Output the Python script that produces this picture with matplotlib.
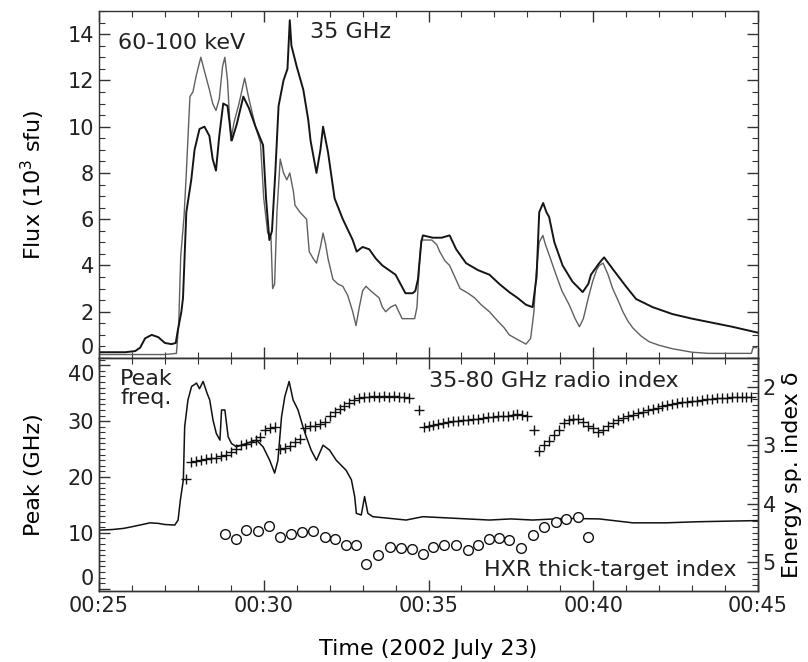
import numpy as np
import matplotlib
matplotlib.use("Agg")
from matplotlib import pyplot as plt
from matplotlib.ticker import MultipleLocator, FuncFormatter

plt.rcParams['font.family'] = ['DejaVu Sans']

# ---- top panel: flux (10^3 sfu), time in minutes after 00:00 UT
radio_t = [25.0, 25.8, 26.1, 26.25, 26.4, 26.6, 26.8, 27.0, 27.2, 27.33, 27.38, 27.5, 27.55,
           27.65, 27.8, 27.9, 28.05, 28.2, 28.35, 28.45, 28.55, 28.65, 28.77, 28.9, 29.03,
           29.18, 29.38, 29.55, 29.75, 29.98, 30.07, 30.17, 30.25, 30.35, 30.45, 30.6, 30.72,
           30.79, 30.84, 31.0, 31.2, 31.35, 31.42, 31.6, 31.72, 31.8, 31.95, 32.15, 32.4, 32.7,
           32.82, 33.0, 33.2, 33.4, 33.6, 34.0, 34.3, 34.52, 34.6, 34.68, 34.78, 34.83, 35.13,
           35.4, 35.64, 35.84, 36.14, 36.5, 36.85, 37.15, 37.45, 37.7, 37.96, 38.16, 38.28,
           38.36, 38.48, 38.58, 38.66, 38.82, 39.07, 39.37, 39.68, 39.85, 39.93, 40.18, 40.33,
           40.59, 40.99, 41.3, 41.8, 42.4, 43.0, 43.7, 44.22, 44.98]
radio_flux = [0.25, 0.25, 0.3, 0.45, 0.85, 1.0, 0.9, 0.65, 0.6, 0.65, 1.1, 2.0, 2.6,
              6.3, 7.7, 9.0, 9.9, 10.0, 9.6, 8.6, 8.1, 9.6, 11.0, 10.9, 9.4,
              10.1, 11.3, 10.8, 10.0, 9.2, 6.9, 5.1, 5.5, 8.0, 10.9, 12.0, 12.5,
              14.6, 13.5, 12.6, 11.6, 10.3, 9.4, 8.0, 9.0, 10.0, 8.9, 6.9, 6.0, 5.1,
              4.6, 4.8, 4.7, 4.3, 4.0, 3.6, 2.8, 2.8, 2.9, 3.4, 5.0, 5.3, 5.2,
              5.2, 5.3, 4.7, 4.1, 3.8, 3.6, 3.2, 2.85, 2.6, 2.3, 2.2, 3.5,
              6.3, 6.7, 6.3, 6.1, 5.0, 4.0, 3.3, 2.85, 3.2, 3.6, 4.1, 4.35,
              3.85, 3.1, 2.55, 2.2, 1.9, 1.7, 1.5, 1.35, 1.1]

hxr_t = [25.0, 25.5, 26.0, 26.5, 27.0, 27.35, 27.42, 27.48, 27.58, 27.65, 27.76, 27.85, 27.95,
         28.09, 28.2, 28.35, 28.45, 28.55, 28.65, 28.75, 28.82, 28.9, 29.0, 29.1, 29.25, 29.42,
         29.55, 29.75, 29.9, 30.0, 30.12, 30.22, 30.27, 30.33, 30.4, 30.5, 30.6, 30.7, 30.79,
         30.9, 30.95, 31.1, 31.3, 31.38, 31.5, 31.6, 31.72, 31.8, 31.88, 31.95, 32.1, 32.25,
         32.4, 32.55, 32.7, 32.8, 32.9, 33.0, 33.1, 33.25, 33.5, 33.6, 33.7, 33.85, 34.0, 34.1,
         34.2, 34.4, 34.58, 34.65, 34.72, 34.78, 34.9, 35.1, 35.25, 35.34, 35.5, 35.64, 35.8,
         35.96, 36.2, 36.4, 36.6, 36.85, 37.1, 37.3, 37.45, 37.7, 37.96, 38.1, 38.2, 38.26,
         38.36, 38.47, 38.55, 38.7, 38.87, 39.05, 39.27, 39.45, 39.58, 39.7, 39.85, 39.98,
         40.1, 40.18, 40.3, 40.45, 40.59, 40.75, 40.9, 41.05, 41.2, 41.45, 41.7, 42.0, 42.4,
         43.0, 43.5, 44.0, 44.5, 44.8, 44.85, 44.95]
hxr_flux = [0.15, 0.15, 0.15, 0.15, 0.15, 0.2, 1.5, 4.4, 6.1, 8.0, 11.3, 11.5, 12.2,
            13.0, 12.4, 11.6, 11.0, 10.7, 11.2, 12.6, 13.0, 12.0, 9.4, 10.2, 11.0, 12.1,
            11.2, 10.0, 9.3, 6.9, 5.4, 5.2, 3.0, 3.2, 6.3, 8.6, 8.0, 7.7, 8.0,
            7.2, 6.6, 6.3, 6.0, 4.6, 4.3, 4.1, 4.8, 5.4, 4.9, 4.3, 3.4, 3.2,
            3.1, 2.7, 2.0, 1.4, 2.2, 2.9, 3.1, 2.9, 2.6, 2.2, 2.0, 2.2, 2.3, 2.0,
            1.7, 1.7, 1.7, 2.2, 4.0, 5.1, 5.1, 5.1, 4.9, 4.6, 4.2, 4.0, 3.5,
            3.0, 2.8, 2.6, 2.3, 2.0, 1.6, 1.3, 1.0, 0.8, 0.6, 0.85, 2.0, 3.55,
            5.0, 5.3, 4.9, 4.3, 3.6, 2.9, 2.3, 1.7, 1.35, 1.7, 2.6, 3.3,
            3.8, 4.0, 4.1, 3.6, 3.0, 2.5, 2.0, 1.6, 1.3, 0.95, 0.7, 0.55, 0.4,
            0.25, 0.2, 0.2, 0.2, 0.2, 0.45, 0.45]

# ---- bottom panel: peak frequency (GHz)
peak_t = [25.0, 25.4, 25.74, 26.0, 26.24, 26.55, 26.8, 27.0, 27.3, 27.4, 27.47, 27.56, 27.6,
          27.7, 27.81, 27.96, 28.05, 28.16, 28.28, 28.36, 28.46, 28.56, 28.67, 28.72, 28.82,
          28.92, 29.02, 29.17, 29.47, 29.78, 29.98, 30.18, 30.33, 30.43, 30.54, 30.64, 30.77,
          30.89, 31.04, 31.19, 31.29, 31.44, 31.6, 31.8, 32.0, 32.2, 32.5, 32.66, 32.76, 32.81,
          32.96, 33.06, 33.16, 33.31, 33.82, 34.32, 34.83, 35.84, 36.85, 37.5, 38.16, 39.17,
          40.18, 41.2, 42.2, 43.2, 44.98]
peak_ghz = [10.5, 10.6, 10.8, 11.1, 11.4, 11.8, 11.7, 11.5, 11.4, 12.3, 15.9, 19.5, 29.0,
            33.8, 36.2, 36.8, 35.8, 37.1, 35.0, 33.8, 30.2, 27.8, 26.6, 32.0, 32.0,
            27.2, 26.0, 25.4, 26.0, 26.6, 25.4, 23.0, 20.7, 23.0, 30.8, 34.4, 37.1,
            33.8, 32.0, 29.0, 27.2, 24.8, 23.0, 25.7, 24.8, 23.0, 21.2, 19.5, 16.5, 13.5,
            13.2, 16.5, 13.5, 12.9, 12.6, 12.3, 12.9, 12.6, 12.3, 12.5, 12.3, 12.6,
            12.5, 11.8, 11.8, 12.0, 12.2]

# 35-80 GHz radio spectral index (energy index delta), three runs of samples
radio_idx_a = [3.57, 3.28, 3.27, 3.25, 3.24, 3.22, 3.22, 3.18, 3.17, 3.12, 3.07, 3.00,
               2.97, 2.94, 2.90, 2.86, 2.74, 2.70, 2.69, 3.06, 3.04, 3.01, 2.95, 2.89,
               2.70, 2.66, 2.66, 2.64, 2.60, 2.50, 2.42, 2.37, 2.32, 2.27, 2.22, 2.19,
               2.17, 2.17, 2.16, 2.17, 2.16, 2.17, 2.16, 2.17, 2.17, 2.18]
radio_idx_lone_t = [34.7, 38.2]
radio_idx_lone = [2.40, 2.74]
radio_idx_b = [2.68, 2.66, 2.65, 2.63, 2.62, 2.60, 2.59, 2.58, 2.57, 2.56, 2.55, 2.54,
               2.53, 2.52, 2.51, 2.50, 2.50, 2.49, 2.47, 2.46, 2.47, 2.49]
radio_idx_c = [3.09, 3.00, 2.92, 2.83, 2.74, 2.62, 2.56, 2.54, 2.55, 2.60, 2.66, 2.71,
               2.77, 2.74, 2.67, 2.62, 2.57, 2.53, 2.50, 2.47, 2.44, 2.42, 2.39, 2.37,
               2.35, 2.33, 2.31, 2.29, 2.27, 2.26, 2.25, 2.24, 2.23, 2.22, 2.21, 2.20,
               2.19, 2.19, 2.18, 2.17, 2.17, 2.17, 2.17, 2.17]

# HXR thick-target index
hxr_idx_t = [28.82, 29.15, 29.47, 29.83, 30.16, 30.48, 30.84, 31.17, 31.49, 31.85, 32.15,
             32.5, 32.81, 33.11, 33.46, 33.82, 34.17, 34.5, 34.83, 35.13, 35.48, 35.84,
             36.19, 36.49, 36.85, 37.15, 37.45, 37.81, 38.16, 38.51, 38.87, 39.17, 39.53,
             39.83]
hxr_idx = [4.53, 4.60, 4.46, 4.47, 4.38, 4.57, 4.53, 4.49, 4.47, 4.57, 4.61,
           4.71, 4.71, 5.03, 4.88, 4.74, 4.77, 4.78, 4.87, 4.74, 4.71, 4.71,
           4.80, 4.71, 4.60, 4.59, 4.63, 4.77, 4.54, 4.40, 4.31, 4.27, 4.23,
           4.57]

# sample times of the radio index runs (regular cadence)
radio_t_a = np.linspace(27.65, 34.40, len(radio_idx_a))
radio_t_b = np.linspace(34.85, 38.00, len(radio_idx_b))
radio_t_c = np.linspace(38.35, 44.80, len(radio_idx_c))

W, H = 808, 662
fig = plt.figure(figsize=(W / 100, H / 100), dpi=100)
ax_top = fig.add_axes([99 / W, 1 - 358 / H, 659 / W, 347 / H])
ax_bot = fig.add_axes([99 / W, 1 - 591 / H, 659 / W, 233 / H])
ax_idx = ax_bot.twinx()

frame = '#333333'
for ax in (ax_top, ax_bot, ax_idx):
    for s in ax.spines.values():
        s.set_color(frame)
        s.set_linewidth(1.0)

def time_fmt(v, pos):
    return "00:%02d" % int(round(v))

# top panel
ax_top.plot(hxr_t, hxr_flux, color='#606060', lw=1.0)
ax_top.plot(radio_t, radio_flux, color='#151515', lw=1.4)
ax_top.set_xlim(25, 45)
ax_top.set_ylim(0, 15)
ax_top.yaxis.set_major_locator(MultipleLocator(2))
ax_top.yaxis.set_minor_locator(MultipleLocator(0.5))
ax_top.set_ylabel('Flux (10$^3$ sfu)', fontsize=16, labelpad=15)
ax_top.text(25.58, 13.6, '60-100 keV', fontsize=16, ha='left', va='center', color='#222222')
ax_top.text(31.39, 14.1, '35 GHz', fontsize=16, ha='left', va='center', color='#222222')

# bottom panel
ax_bot.plot(peak_t, peak_ghz, color='#111111', lw=1.1)
ax_bot.set_xlim(25, 45)
ax_bot.set_ylim(-0.4, 41.3)
ax_bot.yaxis.set_major_locator(MultipleLocator(10))
ax_bot.yaxis.set_minor_locator(MultipleLocator(1))
ax_bot.set_ylabel('Peak (GHz)', fontsize=16, labelpad=17)
ax_bot.set_xlabel('Time (2002 July 23)', fontsize=16, labelpad=17)
ax_bot.text(25.64, 39.3, 'Peak\nfreq.', fontsize=16, ha='left', va='top',
            linespacing=0.95, color='#222222')
ax_bot.text(35.03, 37.2, '35-80 GHz radio index', fontsize=16, ha='left', va='center',
            color='#222222')
ax_bot.text(44.36, 3.3, 'HXR thick-target index', fontsize=16, ha='right', va='center',
            color='#222222')

# spectral indices on the right axis
pm = dict(ls='none', marker='+', ms=7, mew=1.0, color='#111111')
ax_idx.plot(radio_t_a, radio_idx_a, **pm)
ax_idx.plot(radio_t_b, radio_idx_b, **pm)
ax_idx.plot(radio_t_c, radio_idx_c, **pm)
ax_idx.plot(radio_idx_lone_t, radio_idx_lone, **pm)
ax_idx.plot(hxr_idx_t, hxr_idx, ls='none', marker='o', ms=7, mfc='white',
            mec='#111111', mew=1.0)
ax_idx.set_ylim(5.5, 1.5)
ax_idx.yaxis.set_major_locator(MultipleLocator(1))
ax_idx.yaxis.set_minor_locator(MultipleLocator(0.1))
ax_idx.set_ylabel('Energy sp. index δ', fontsize=16, labelpad=4)

for ax in (ax_top, ax_bot):
    ax.xaxis.set_major_locator(MultipleLocator(5))
    ax.xaxis.set_minor_locator(MultipleLocator(1))
    ax.xaxis.set_major_formatter(FuncFormatter(time_fmt))
ax_top.tick_params(labelbottom=False)

ax_top.tick_params(which='both', direction='in', top=True, right=True, bottom=True,
                   colors=frame, labelcolor='#222222', labelsize=15)
ax_bot.tick_params(which='both', direction='in', top=True, right=False,
                   colors=frame, labelcolor='#222222', labelsize=15)
ax_idx.tick_params(which='both', direction='in', colors=frame, labelcolor='#222222',
                   labelsize=15)
for ax in (ax_top, ax_bot, ax_idx):
    ax.tick_params(which='major', length=8, width=1.0)
    ax.tick_params(which='minor', length=4, width=0.8)

fig.canvas.draw()
for lab in ax_top.get_yticklabels():
    if lab.get_text() == '0':
        lab.set_va('bottom')
for lab in ax_bot.get_yticklabels():
    if lab.get_text() == '40':
        lab.set_va('top')
    if lab.get_text() == '0':
        lab.set_va('bottom')

fig.savefig('out.png', dpi=100)
